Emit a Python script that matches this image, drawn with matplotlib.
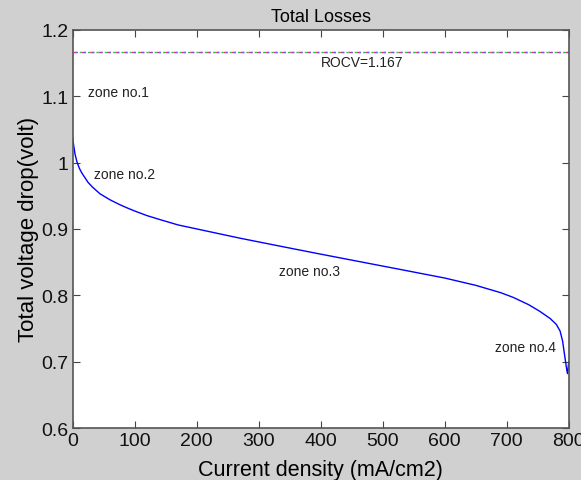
import numpy as np
import matplotlib
matplotlib.use("Agg")
import matplotlib.pyplot as plt

plt.rcParams['font.family'] = ['Liberation Sans', 'DejaVu Sans']

# current density (mA/cm2) and total voltage drop (volt)
current = [0, 2, 4, 7, 11, 15, 20, 25, 32, 44, 60, 75, 87, 100, 120, 141,
           170, 200, 270, 340, 400, 450, 528, 600, 650, 690, 710, 735, 753,
           770, 780, 786, 790, 794, 797, 798, 800]
voltage = [1.037, 1.024, 1.012, 1.001, 0.991, 0.984, 0.977, 0.970, 0.963,
           0.953, 0.944, 0.937, 0.932, 0.927, 0.920, 0.914, 0.906, 0.900,
           0.886, 0.873, 0.862, 0.853, 0.839, 0.826, 0.815, 0.804, 0.797,
           0.786, 0.776, 0.765, 0.756, 0.746, 0.731, 0.705, 0.686, 0.682,
           0.700]

rocv = 1.167
zone_labels = ["zone no.1", "zone no.2", "zone no.3", "zone no.4"]
zone_x = [25, 34, 333, 681]
zone_y = [1.107, 0.983, 0.837, 0.722]

fig = plt.figure(figsize=(5.81, 4.81), dpi=100)
fig.patch.set_facecolor('#d0d0d0')
ax = fig.add_axes([0.125, 0.108, 0.854, 0.828])
ax.set_facecolor('white')

# ROCV line, drawn several times in different colours like the original
ax.plot([0, 800], [rocv, rocv], color='#ee3366', lw=1, ls=(0, (3, 3)))
ax.plot([0, 800], [rocv, rocv], color='#33bb55', lw=1, ls=(1.5, (1.5, 4.5)))
ax.plot([0, 800], [rocv, rocv], color='#6666ff', lw=1, ls=(4.5, (1.5, 4.5)))
ax.plot(current, voltage, color='blue', lw=1)

ax.text(400, 1.152, "ROCV=1.167", fontsize=10, color='#222222',
        ha='left', va='center')
for lab, x, y in zip(zone_labels, zone_x, zone_y):
    ax.text(x, y, lab, fontsize=10, color='#222222', ha='left', va='center')

ax.set_xlim(0, 800)
ax.set_ylim(0.6, 1.2)
ax.set_xticks(np.arange(0, 801, 100))
ax.set_yticks(np.arange(0.6, 1.21, 0.1))
ax.set_yticklabels(['0.6', '0.7', '0.8', '0.9', '1', '1.1', '1.2'])
ax.tick_params(direction='in', top=True, right=True, labelsize=14,
               length=5, color='#444444', labelcolor='#111111', pad=3)
for s in ax.spines.values():
    s.set_color('#555555')
    s.set_linewidth(1.2)

ax.set_xlabel('Current density (mA/cm2)', fontsize=15.5, labelpad=7)
ax.set_ylabel('Total voltage drop(volt)', fontsize=16, labelpad=2)
ax.set_title('Total Losses', fontsize=13, pad=6)

plt.savefig('out.png', facecolor=fig.get_facecolor())
